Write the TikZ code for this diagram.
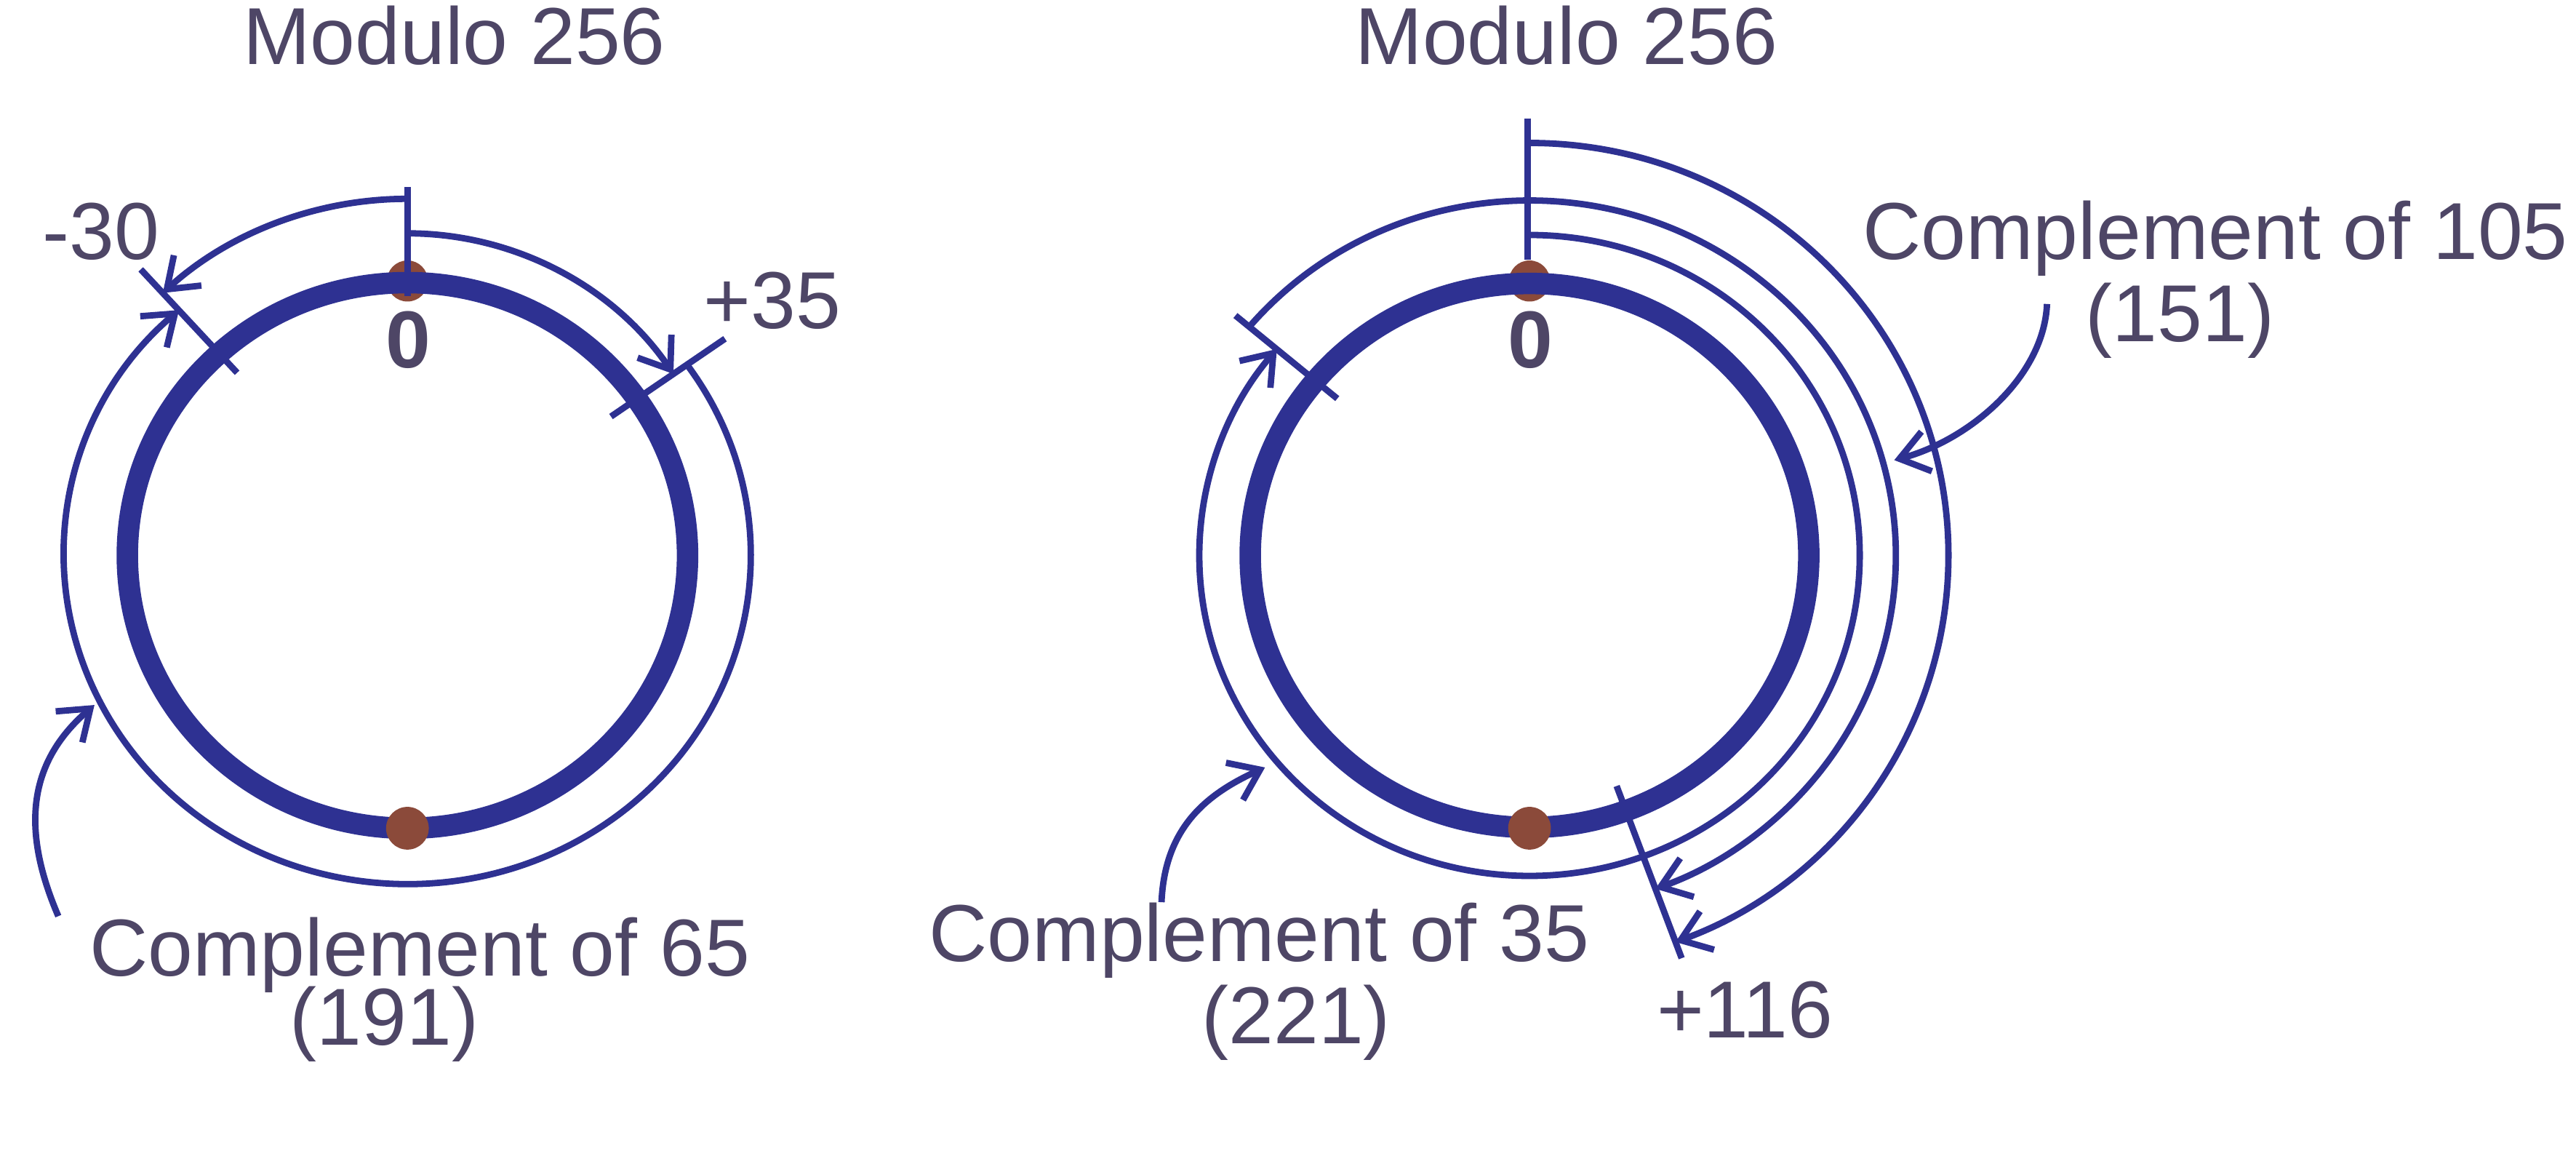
\documentclass[tikz,border=0pt]{standalone}
\usepackage{fontspec}
\setmainfont{Liberation Sans}
\usetikzlibrary{arrows.meta,calc}
\definecolor{ringblue}{RGB}{46,49,146}
\definecolor{dotbrown}{RGB}{139,74,58}
\definecolor{txtcol}{RGB}{78,70,102}
\begin{document}
\begin{tikzpicture}[x=0.022589cm,y=0.022589cm,
  thinl/.style={draw=ringblue,line width=2.5pt},
  ringl/.style={draw=ringblue,line width=8.4pt},
  arr/.style={thinl,-{Straight Barb[length=11pt,width=16pt]}},
  lbl/.style={text=txtcol,font=\fontsize{31.6}{38}\selectfont,inner sep=0pt,anchor=base},
  zerol/.style={lbl,font=\fontsize{31.6}{38}\selectfont\bfseries},
  brdot/.style={fill=dotbrown,draw=none}]
\useasboundingbox (0,0) rectangle (1568,708);
\coordinate (L) at (248,370);
\coordinate (R) at (931,370);
% ---------------- left diagram
\fill[brdot] (248,537) circle[radius=12.5];
\draw[ringl] (L) ellipse[x radius=170.5,y radius=166];
\fill[brdot] (248,204) circle[radius=13];
\coordinate (Lt1) at (248,594);
\coordinate (Lt2) at (248,528);
\draw[thinl] (Lt1) -- (Lt2);
\coordinate (Lp1) at ($(L)+(34.3:150)$);
\coordinate (Lp2) at ($(L)+(34.3:234)$);
\draw[thinl] (Lp1) -- (Lp2);
\coordinate (Lm1) at ($(L)+(133:152)$);
\coordinate (Lm2) at ($(L)+(133:238)$);
\draw[thinl] (Lm1) -- (Lm2);
\coordinate (La1) at ($(L)+(90:196)$);
\draw[arr] (La1) arc[start angle=90,end angle=34.3,radius=196];
\coordinate (La2) at ($(L)+(90:217)$);
\draw[arr] (La2) arc[start angle=90,end angle=132.6,x radius=220,y radius=217];
\coordinate (La3) at ($(L)+(35.5:209 and 200)$);
\draw[arr] (La3) arc[start angle=35.5,end angle=-228.3,x radius=209,y radius=200];
\coordinate (Lq1) at (35.5,150.5);
\coordinate (Lq2) at (57.5,279);
\draw[arr] (Lq1) .. controls (12,205) and (18,245) .. (Lq2);
% ---------------- right diagram
\fill[brdot] (931,537) circle[radius=12.5];
\draw[ringl] (R) ellipse[x radius=170,y radius=165.5];
\fill[brdot] (931,204) circle[radius=13];
\coordinate (Rt1) at (930,636);
\coordinate (Rt2) at (930,550);
\draw[thinl] (Rt1) -- (Rt2);
\coordinate (Rm1) at ($(R)+(140.8:151)$);
\coordinate (Rm2) at ($(R)+(140.8:231)$);
\draw[thinl] (Rm1) -- (Rm2);
\coordinate (Rp1) at ($(R)+(-69.3:150)$);
\coordinate (Rp2) at ($(R)+(-69.3:262)$);
\draw[thinl] (Rp1) -- (Rp2);
\coordinate (Ra1) at ($(R)+(90:201 and 195)$);
\draw[arr] (Ra1) arc[start angle=90,end angle=-220.1,x radius=201,y radius=195];
\coordinate (Ra2) at ($(R)+(139.9:223 and 216)$);
\draw[arr] (Ra2) arc[start angle=139.9,end angle=-69.9,x radius=223,y radius=216];
\coordinate (Ra3) at ($(R)+(90:255 and 251)$);
\draw[arr] (Ra3) arc[start angle=90,end angle=-69.6,x radius=255,y radius=251];
\coordinate (Rq1) at (1246,523);
\coordinate (Rq2) at (1153,428);
\draw[arr] (Rq1) .. controls (1244,478) and (1198,440) .. (Rq2);
\coordinate (Rs1) at (707,159);
\coordinate (Rs2) at (770,241);
\draw[arr] (Rs1) .. controls (709,205) and (735,225) .. (Rs2);
% ---------------- labels
\node[lbl] (modL) at (276.5,669) {Modulo 256};
\node[lbl] (modR) at (953.5,669) {Modulo 256};
\node[lbl] (m30) at (61.5,550) {-30};
\node[lbl] (p35) at (470,508) {+35};
\node[zerol] (zL) at (248.4,484) {0};
\node[zerol] (zR) at (931.5,484) {0};
\node[lbl] (c65) at (255.5,114) {Complement of 65};
\node[lbl] (n191) at (234,72) {(191)};
\node[lbl] (c105) at (1348.5,550) {Complement of 105};
\node[lbl] (n151) at (1327,500) {(151)};
\node[lbl] (c35) at (766.5,123) {Complement of 35};
\node[lbl] (n221) at (789,73) {(221)};
\node[lbl] (p116) at (1062,76.5) {+116};
\end{tikzpicture}
\end{document}
